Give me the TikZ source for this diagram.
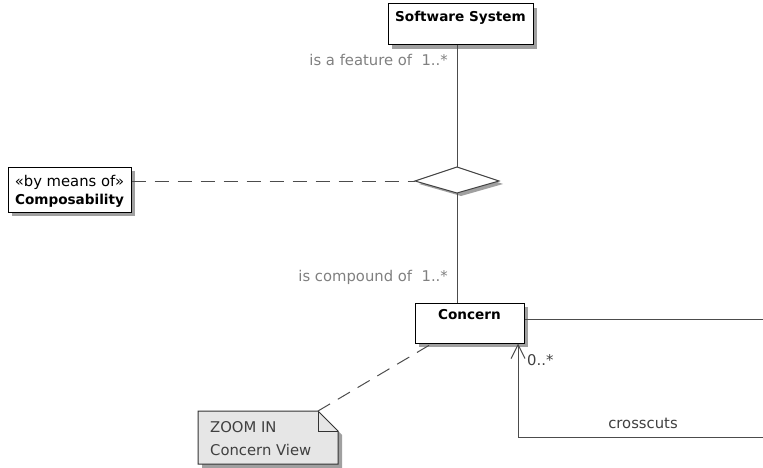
\documentclass[tikz,border=0pt]{standalone}
\usepackage{fontspec}
\setmainfont{DejaVu Sans}
\usetikzlibrary{arrows.meta,shadows}
\definecolor{notefill}{HTML}{E6E6E6}
\definecolor{shadowc}{HTML}{A0A0A0}
\begin{document}
\begin{tikzpicture}[x=1pt,y=-1pt,
  cls/.style={draw=black, fill=white, line width=1pt, inner sep=0pt,
    drop shadow={shadow xshift=4pt, shadow yshift=-4pt, fill=shadowc, opacity=1}},
  bold/.style={font=\fontsize{13.6}{16}\selectfont\bfseries, inner sep=0pt},
  reg/.style={font=\fontsize{14.8}{17}\selectfont, inner sep=0pt},
  lbl/.style={reg, text=black!50},
  conn/.style={draw=black!70, line width=1pt},
  dashconn/.style={conn, dash pattern=on 14pt off 9pt}
]
\useasboundingbox (0,0) rectangle (763,468);

% Software System
\node[cls, minimum width=145pt, minimum height=41pt] (ss) at (460.5,24.5) {};
\node[bold] (ssT) at (460.5,18) {Software System};

% Composability
\node[cls, minimum width=123pt, minimum height=45pt] (comp) at (69.5,189.5) {};
\node[reg] (compS) at (69.5,182) {«by means of»};
\node[bold] (compT) at (69.5,201) {Composability};

% Concern
\node[cls, minimum width=109pt, minimum height=40pt] (con) at (469.5,323) {};
\node[bold] (conT) at (469.5,315) {Concern};

% diamond
\coordinate (dL) at (415,181);
\coordinate (dT) at (457,167);
\coordinate (dR) at (499,181);
\coordinate (dB) at (457,193);
\fill[shadowc] ([shift={(4,3)}]dL) -- ([shift={(4,3)}]dT) -- ([shift={(4,3)}]dR) -- ([shift={(4,3)}]dB) -- cycle;
\draw[fill=white, draw=black!75, line width=1pt] (dL) -- (dT) -- (dR) -- (dB) -- cycle;

% note
\coordinate (nTL) at (198,411);
\coordinate (nF) at (318,411);
\coordinate (nR) at (338,431);
\coordinate (nBR) at (338,464);
\coordinate (nBL) at (198,464);
\fill[shadowc] ([shift={(4,4)}]nTL) -- ([shift={(4,4)}]nF) -- ([shift={(4,4)}]nR) -- ([shift={(4,4)}]nBR) -- ([shift={(4,4)}]nBL) -- cycle;
\draw[fill=notefill, draw=black!80, line width=1pt] (nTL) -- (nF) -- (nR) -- (nBR) -- (nBL) -- cycle;
\draw[draw=black!80, line width=1pt] (nF) -- (318,431) -- (nR);
\node[reg, text=black!75, anchor=west] (n1) at (210,427) {ZOOM IN};
\node[reg, text=black!75, anchor=west] (n2) at (210,450) {Concern View};

% connectors
\draw[conn] (ss.south -| dT) -- (dT);
\draw[conn] (dB) -- (con.north -| dB);
\draw[dashconn] (comp.east |- dL) -- (dL);
\coordinate (cAn) at (433,343);
\draw[dashconn] (nF) -- (cAn);

\coordinate (out1) at (764,319);
\coordinate (out2) at (764,437);
\coordinate (arrX) at (518,437);
\draw[conn] (con.east |- out1) -- (out1);
\draw[conn, -{Straight Barb[length=14pt, width=14pt, line width=1pt]}] (out2) -- (arrX) -- (arrX |- con.south);

% labels
\node[lbl, anchor=east] (l1) at (448,60) {is a feature of\ \ 1..*};
\node[lbl, anchor=east] (l2) at (448,277) {is compound of\ \ 1..*};
\node[reg, text=black!75, anchor=west] (l3) at (527,360) {0..*};
\node[reg, text=black!75] (l4) at (643,423) {crosscuts};
\end{tikzpicture}
\end{document}
